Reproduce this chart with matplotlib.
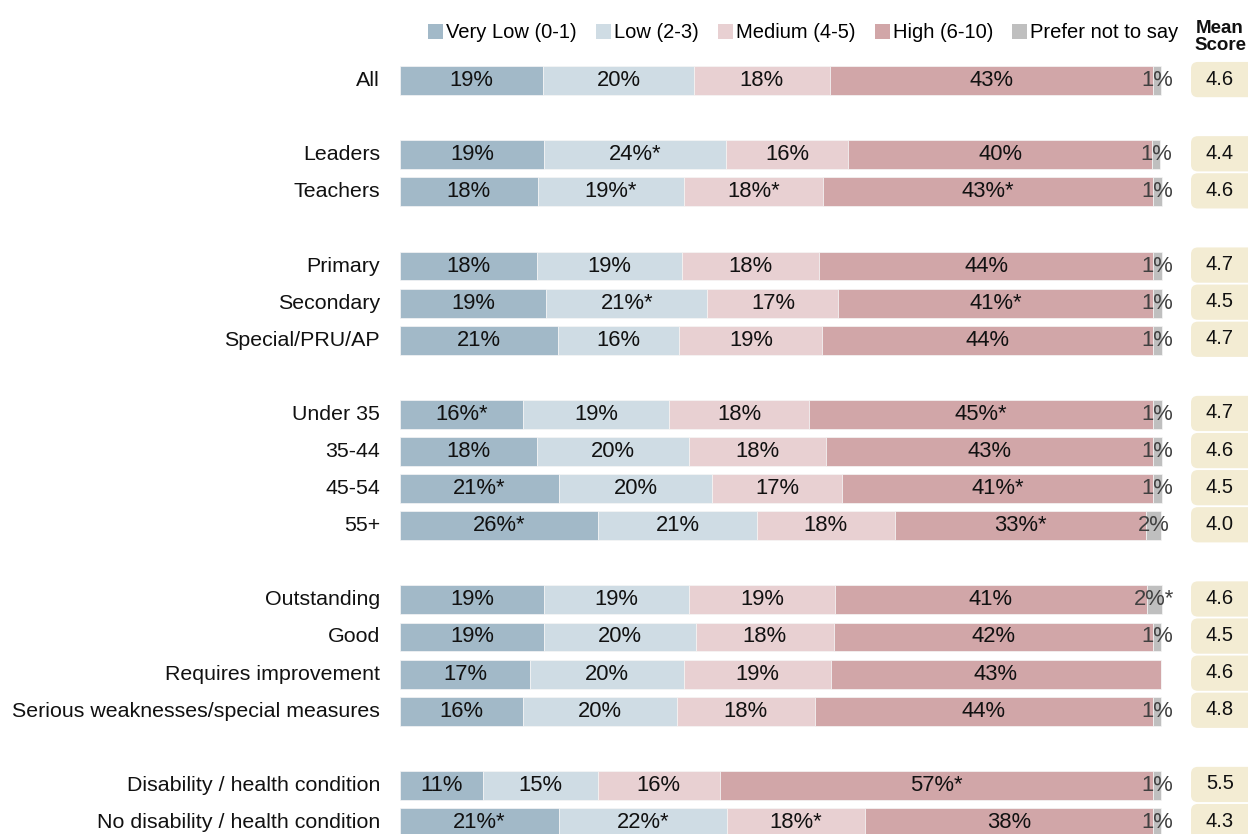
import numpy as np
import matplotlib
matplotlib.use("Agg")
from matplotlib import pyplot as plt
from matplotlib.patches import Patch, FancyBboxPatch

plt.rcParams['font.family'] = ['Liberation Sans', 'DejaVu Sans']

# groups of rows (a blank slot is left between groups)
groups = [
    ["All"],
    ["Leaders", "Teachers"],
    ["Primary", "Secondary", "Special/PRU/AP"],
    ["Under 35", "35-44", "45-54", "55+"],
    ["Outstanding", "Good", "Requires improvement",
     "Serious weaknesses/special measures"],
    ["Disability / health condition", "No disability / health condition"],
]

series = ["Very Low (0-1)", "Low (2-3)", "Medium (4-5)", "High (6-10)",
          "Prefer not to say"]

# segment widths (%)
very_low = [18.8, 18.9, 18.1, 18.0, 19.2, 20.8, 16.2, 18.0, 20.9, 26.0,
            18.9, 18.9, 17.1, 16.2, 10.9, 20.9]
low = [19.8, 24.0, 19.2, 19.1, 21.2, 15.9, 19.2, 20.0, 20.1, 20.9,
       19.1, 20.0, 20.2, 20.2, 15.1, 22.1]
medium = [17.9, 16.0, 18.3, 18.0, 17.2, 18.8, 18.3, 18.0, 17.1, 18.1,
          19.1, 18.1, 19.3, 18.1, 16.0, 18.1]
high = [42.4, 39.9, 43.4, 43.9, 41.4, 43.5, 45.3, 43.0, 40.9, 33.0,
        41.0, 41.9, 43.4, 44.4, 56.9, 37.8]
prefer = [1.1, 1.1, 1.1, 1.1, 1.1, 1.1, 1.1, 1.1, 1.1, 2.0,
          2.0, 1.1, 0.0, 1.1, 1.1, 1.1]

# printed labels
very_low_lbl = ["19%", "19%", "18%", "18%", "19%", "21%", "16%*", "18%", "21%*", "26%*",
                "19%", "19%", "17%", "16%", "11%", "21%*"]
low_lbl = ["20%", "24%*", "19%*", "19%", "21%*", "16%", "19%", "20%", "20%", "21%",
           "19%", "20%", "20%", "20%", "15%", "22%*"]
medium_lbl = ["18%", "16%", "18%*", "18%", "17%", "19%", "18%", "18%", "17%", "18%",
              "19%", "18%", "19%", "18%", "16%", "18%*"]
high_lbl = ["43%", "40%", "43%*", "44%", "41%*", "44%", "45%*", "43%", "41%*", "33%*",
            "41%", "42%", "43%", "44%", "57%*", "38%"]
prefer_lbl = ["1%", "1%", "1%", "1%", "1%", "1%", "1%", "1%", "1%", "2%",
              "2%*", "1%", "", "1%", "1%", "1%"]

mean_score = ["4.6", "4.4", "4.6", "4.7", "4.5", "4.7", "4.7", "4.6", "4.5", "4.0",
              "4.6", "4.5", "4.6", "4.8", "5.5", "4.3"]

colors = ["#A2B9C8", "#CFDCE4", "#E8D0D2", "#D1A6A8", "#BFBFBF"]
box_color = "#F3ECD3"

# row positions: one slot per row, one empty slot between groups
labels = []
ypos = []
slot = 0
for g in groups:
    for name in g:
        labels.append(name)
        ypos.append(slot)
        slot += 1
    slot += 1
ypos = np.array(ypos, dtype=float)

fig = plt.figure(figsize=(12.48, 8.34), dpi=100)
ax = fig.add_axes([0, 0, 1, 1])
ax.axis("off")

# 0..100 spans pixels 400..1161
px = 7.61
ax.set_xlim(-400 / px, (1248 - 400) / px)
pitch = 37.1
ax.set_ylim((834 - 80.5) / pitch, -80.5 / pitch)

vals = [very_low, low, medium, high, prefer]
lbls = [very_low_lbl, low_lbl, medium_lbl, high_lbl, prefer_lbl]
left = np.zeros(len(labels))
for i in range(5):
    v = np.array(vals[i])
    ax.barh(ypos, v, left=left, height=0.78, color=colors[i],
            edgecolor="#F6F6F6", linewidth=0.5)
    for y, l, w, t in zip(ypos, left, v, lbls[i]):
        if t:
            ax.text(l + w / 2, y, t, ha="center", va="center", fontsize=15.8,
                    color="#404040" if i == 4 else "#111111")
    left += v

for y, name in zip(ypos, labels):
    ax.text(-20 / px, y, name, ha="right", va="center", fontsize=15.4, color="#111111")

# mean score boxes
bx0 = (1191 - 400) / px
for y, s in zip(ypos, mean_score):
    box = FancyBboxPatch((bx0, y - 0.5), 12, 0.95,
                         boxstyle="round,pad=0,rounding_size=0.9",
                         mutation_aspect=px / pitch,
                         facecolor=box_color, edgecolor="none")
    ax.add_patch(box)
    ax.text((1220 - 400) / px, y - 0.04, s, ha="center", va="center",
            fontsize=14.5, color="#111111")

ax.text((1220 - 400) / px, (37 - 80.5) / pitch, "Mean\nScore", ha="center",
        va="center", fontsize=13.5, fontweight="bold", linespacing=1.05,
        color="#111111")

handles = [Patch(facecolor=c, edgecolor="none") for c in colors]
fig.legend(handles, series, loc="center left", ncol=5, frameon=False,
           bbox_to_anchor=(428 / 1248, 1 - 33 / 834), fontsize=14.5,
           handlelength=0.75, handleheight=0.75, handletextpad=0.15,
           columnspacing=0.95, borderpad=0, borderaxespad=0)

fig.savefig("out.png", dpi=100)
